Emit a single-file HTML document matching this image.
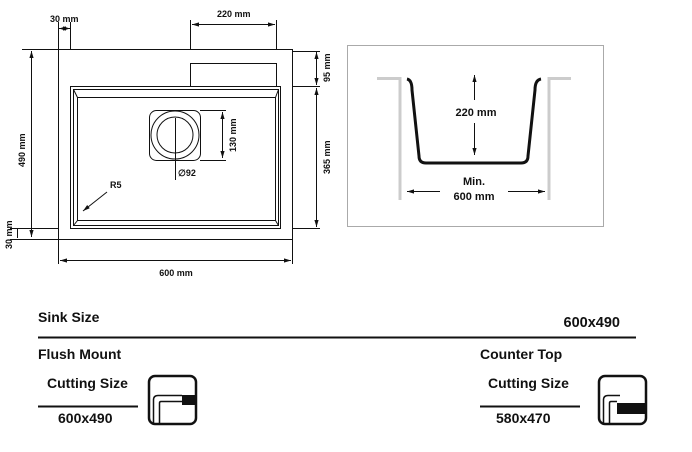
<!DOCTYPE html>
<html><head><meta charset="utf-8"><style>
body{margin:0;background:#fff;width:692px;height:452px;overflow:hidden}
svg{display:block}
text{font-family:"Liberation Sans",sans-serif;font-weight:bold;fill:#111}
</style></head><body>
<svg width="692" height="452" viewBox="0 0 692 452">
<defs><marker id="a" viewBox="0 0 10 10" refX="10" refY="5" markerWidth="7" markerHeight="7" orient="auto-start-reverse"><path d="M0,2 L10,5 L0,8 Z" fill="#111"/></marker></defs>
<g fill="none" stroke="#111" stroke-width="1">
<rect x="58.5" y="49.5" width="234" height="190"/>
<rect x="70.5" y="86.5" width="210" height="142"/>
<rect x="73.5" y="89.5" width="205" height="136"/>
<rect x="77.5" y="97.5" width="198" height="123"/>
<path d="M73.5 89.5 L77.5 97.5 M278.5 89.5 L275.5 97.5 M73.5 225.5 L77.5 220.5 M278.5 225.5 L275.5 220.5"/>
<path d="M190.5 86 V63.5 H276.5 V86"/>
<rect x="149.5" y="110.5" width="51" height="50" rx="7"/>
<circle cx="175" cy="135" r="24"/>
<circle cx="175" cy="135" r="18"/>
<path d="M175.5 118 V180"/>
<path d="M200 110.5 H226 M200 160.5 H226"/>
<path d="M222.5 112 V158" marker-start="url(#a)" marker-end="url(#a)"/>
<path d="M107 192 L83 211" marker-end="url(#a)"/>
<path d="M58.5 22 V49 M70.5 22 V49"/>
<path d="M59 28.5 H70" marker-start="url(#a)" marker-end="url(#a)"/>
<path d="M190.5 20 V49 M276.5 20 V49"/>
<path d="M192 24.5 H275" marker-start="url(#a)" marker-end="url(#a)"/>
<path d="M22 49.5 H58 M10 228.5 H58 M10 239.5 H58"/>
<path d="M31.5 51 V237" marker-start="url(#a)" marker-end="url(#a)"/>
<path d="M17.5 229 V238"/>
<path d="M292 51.5 H320 M292 86.5 H320 M292 228.5 H320"/>
<path d="M316.5 52 V85" marker-start="url(#a)" marker-end="url(#a)"/>
<path d="M316.5 88 V227" marker-start="url(#a)" marker-end="url(#a)"/>
<path d="M58.5 239 V264 M292.5 239 V264"/>
<path d="M60 260.5 H291" marker-start="url(#a)" marker-end="url(#a)"/>
</g>
<g font-size="9">
<text x="50" y="22">30 mm</text>
<text x="217" y="17">220 mm</text>
<text x="176" y="276" text-anchor="middle">600 mm</text>
<text x="110" y="188">R5</text>
<text x="178" y="176">∅92</text>
<text transform="translate(236,152) rotate(-90)">130 mm</text>
<text transform="translate(330,82) rotate(-90)">95 mm</text>
<text transform="translate(330,174) rotate(-90)">365 mm</text>
<text transform="translate(25,167) rotate(-90)">490 mm</text>
<text transform="translate(12,249) rotate(-90)">30 mm</text>
</g>
<rect x="347.5" y="45.5" width="256" height="181" fill="none" stroke="#aaa"/>
<path d="M377 78.5 H400 V200 M571 78.5 H549 V200" fill="none" stroke="#ccc" stroke-width="3"/>
<path d="M407 79 Q412 80 412 90 L419 156 Q419 163 426 163 L521 163 Q528 163 528 156 L535 90 Q535 80 541 79" fill="none" stroke="#111" stroke-width="3"/>
<g fill="none" stroke="#111" stroke-width="1">
<path d="M474.5 100 V75" marker-end="url(#a)"/>
<path d="M474.5 123 V155" marker-end="url(#a)"/>
<path d="M440 191.5 H407" marker-end="url(#a)"/>
<path d="M508 191.5 H545" marker-end="url(#a)"/>
</g>
<g font-size="11" text-anchor="middle">
<text x="476" y="116">220 mm</text>
<text x="474" y="185">Min.</text>
<text x="474" y="200">600 mm</text>
</g>
<g font-size="14">
<text x="38" y="322">Sink Size</text>
<text x="620" y="327" text-anchor="end" font-size="14.5">600x490</text>
<text x="38" y="359">Flush Mount</text>
<text x="480" y="359">Counter Top</text>
<text x="47" y="388">Cutting Size</text>
<text x="488" y="388">Cutting Size</text>
<text x="58" y="423">600x490</text>
<text x="496" y="423">580x470</text>
</g>
<path d="M38 337.5 H636" stroke="#111" stroke-width="2"/>
<path d="M38 406.5 H138 M480 406.5 H580" stroke="#111" stroke-width="2"/>
<g fill="none" stroke="#111">
<rect x="149" y="376" width="47" height="48" rx="6" stroke-width="2.5"/>
<path d="M153.5 424 V400 Q153.5 395.5 158 395.5 H182 M159.5 424 V403 Q159.5 401.5 161 401.5 H182" stroke-width="1.5"/>
<rect x="599" y="376" width="47" height="48" rx="6" stroke-width="2.5"/>
<path d="M603.5 424 V400 Q603.5 395.5 608 395.5 H620 M609.5 424 V403 Q609.5 401.5 611 401.5 H617" stroke-width="1.5"/>
</g>
<rect x="182" y="395" width="15" height="10" fill="#111"/>
<rect x="617" y="403" width="30" height="11" fill="#111"/>
</svg>
</body></html>
